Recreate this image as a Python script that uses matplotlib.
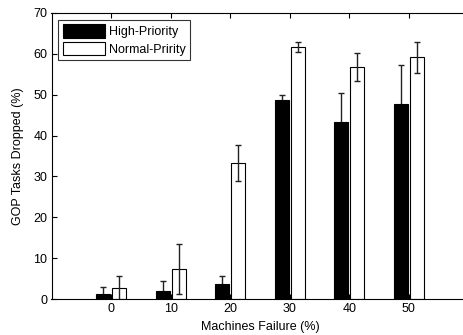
import matplotlib
matplotlib.use("Agg")
import matplotlib.pyplot as plt
import numpy as np

categories = [0, 10, 20, 30, 40, 50]
high_vals = [1.3, 1.95, 3.7, 48.6, 43.2, 47.8]
high_err = [1.6, 2.6, 2.1, 1.3, 7.2, 9.4]
normal_vals = [2.75, 7.4, 33.4, 61.6, 56.7, 59.1]
normal_err = [2.85, 6.1, 4.4, 1.3, 3.5, 3.85]
labels = ["High-Priority", "Normal-Pririty"]

plt.rcParams['font.family'] = ['Liberation Sans', 'DejaVu Sans']

W, H = 464, 335
fig = plt.figure(figsize=(W/100, H/100), dpi=100)
left, right, top, bottom = 51.5, 468.5, 12.7, 299.3
ax = fig.add_axes([left/W, 1-bottom/H, (right-left)/W, (bottom-top)/H])

x = np.array(categories, dtype=float)
off = 1.36
w = 2.35
ax.errorbar(x-off, high_vals, yerr=high_err, fmt='none', ecolor='#222222', elinewidth=1.0, capsize=2.0, capthick=1.0, zorder=1)
ax.bar(x-off, high_vals, w, color='black', edgecolor='black', linewidth=0.8, label=labels[0], zorder=2)
ax.bar(x+off, normal_vals, w, color='white', edgecolor='black', linewidth=0.8, label=labels[1], zorder=2)
ax.errorbar(x+off, normal_vals, yerr=normal_err, fmt='none', ecolor='#222222', elinewidth=1.0, capsize=2.0, capthick=1.0, zorder=3)

ax.set_xlim(-10, 60)
ax.set_ylim(0, 70)
ax.set_xticks(categories)
ax.set_yticks(range(0, 71, 10))
ax.tick_params(direction='in', length=3.5, width=0.8, labelsize=9, top=True, right=True, pad=3)
for s in ax.spines.values():
    s.set_linewidth(0.8)
ax.set_xlabel("Machines Failure (%)", fontsize=9, labelpad=4)
ax.set_ylabel("GOP Tasks Dropped (%)", fontsize=9, labelpad=7)

leg = ax.legend(loc='upper left', fontsize=9, frameon=True, fancybox=False, edgecolor='black',
                handlelength=3.4, handleheight=1.3, borderpad=0.35, labelspacing=0.3,
                handletextpad=0.3, borderaxespad=0.55)
leg.get_frame().set_linewidth(0.8)

fig.savefig("out.png", dpi=100)
